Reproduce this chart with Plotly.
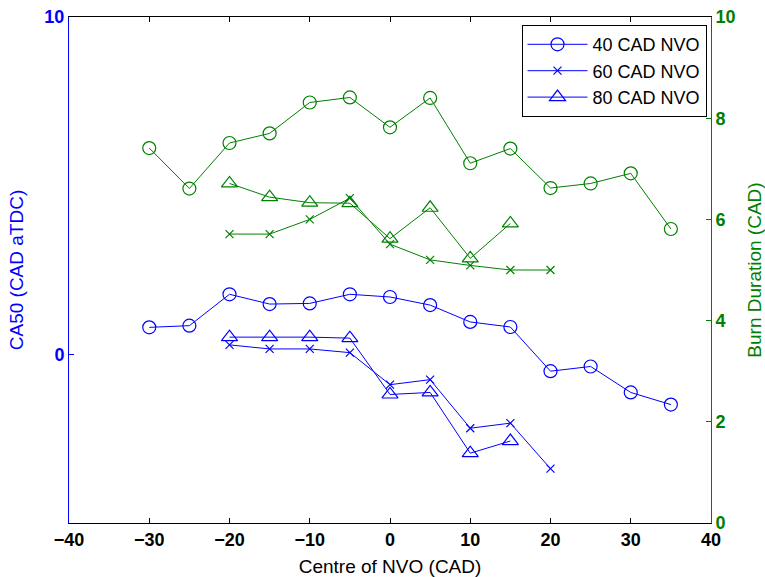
import plotly.graph_objects as go

# Centre of NVO positions (CAD)
nvo40_x = [-30, -25, -20, -15, -10, -5, 0, 5, 10, 15, 20, 25, 30, 35]
nvo60_x = [-20, -15, -10, -5, 0, 5, 10, 15, 20]
nvo80_x = [-20, -15, -10, -5, 0, 5, 10, 15]

# CA50 (CAD aTDC) - left axis
ca50_40 = [0.80, 0.85, 1.78, 1.49, 1.51, 1.78, 1.70, 1.46, 0.96, 0.81, -0.50, -0.36, -1.13, -1.49]
ca50_60 = [0.28, 0.16, 0.16, 0.05, -0.90, -0.75, -2.19, -2.04, -3.39]
ca50_80 = [0.51, 0.51, 0.51, 0.48, -1.19, -1.13, -2.93, -2.57]

# Burn duration (CAD) - right axis
burn_40 = [7.41, 6.61, 7.51, 7.70, 8.31, 8.41, 7.82, 8.40, 7.11, 7.40, 6.62, 6.71, 6.91, 5.81]
burn_60 = [5.71, 5.71, 6.00, 6.42, 5.51, 5.20, 5.09, 5.00, 5.00]
burn_80 = [6.71, 6.44, 6.33, 6.32, 5.62, 6.23, 5.23, 5.92]

series_names = ["40 CAD NVO", "60 CAD NVO", "80 CAD NVO"]

BLUE = "rgb(0,0,255)"
GREEN = "rgb(0,128,0)"
FONT = "Liberation Sans, Arial, sans-serif"

marker_styles = [
    dict(symbol="circle-open", size=13),
    dict(symbol="x-thin-open", size=8),
    dict(symbol="triangle-up-open", size=14),
]

fig = go.Figure()

xs = [nvo40_x, nvo60_x, nvo80_x]
left_vals = [ca50_40, ca50_60, ca50_80]
right_vals = [burn_40, burn_60, burn_80]

for name, x, y, m in zip(series_names, xs, left_vals, marker_styles):
    fig.add_trace(go.Scatter(
        x=x, y=y, name=name, mode="lines+markers",
        line=dict(color=BLUE, width=1),
        marker=dict(color=BLUE, line=dict(color=BLUE, width=1.2), **m),
        yaxis="y",
    ))

for name, x, y, m in zip(series_names, xs, right_vals, marker_styles):
    fig.add_trace(go.Scatter(
        x=x, y=y, name=name, mode="lines+markers", showlegend=False,
        line=dict(color=GREEN, width=1),
        marker=dict(color=GREEN, line=dict(color=GREEN, width=1.2), **m),
        yaxis="y2",
    ))

tick_font = dict(family=FONT, size=18, weight="bold")
TITLE_SIZE = 19

fig.update_layout(
    width=765, height=577,
    margin=dict(l=69, r=54, t=17, b=54),
    paper_bgcolor="white", plot_bgcolor="white",
    font=dict(family=FONT, size=16, color="black"),
    xaxis=dict(
        range=[-40, 40], dtick=10, tick0=0, automargin=False,
        showline=True, linecolor="black", linewidth=1, mirror="ticks",
        ticks="inside", ticklen=5, tickcolor="black",
        showgrid=False, zeroline=False,
        tickfont=dict(color="black", **tick_font),
        title=dict(text="Centre of NVO (CAD)", font=dict(size=TITLE_SIZE, color="black")),
    ),
    yaxis=dict(
        range=[-5, 10], dtick=10, tick0=0, automargin=False,
        showline=True, linecolor=BLUE, linewidth=1,
        ticks="inside", ticklen=5, tickcolor=BLUE,
        showgrid=False, zeroline=False,
        tickfont=dict(color=BLUE, **tick_font),
        title=dict(text="CA50 (CAD aTDC)", font=dict(size=TITLE_SIZE, color=BLUE)),
    ),
    yaxis2=dict(
        range=[0, 10], dtick=2, tick0=0, automargin=False,
        overlaying="y", side="right",
        showline=True, linecolor=GREEN, linewidth=1,
        ticks="inside", ticklen=5, tickcolor=GREEN,
        showgrid=False, zeroline=False,
        tickfont=dict(color=GREEN, **tick_font),
        title=dict(text="Burn Duration (CAD)", font=dict(size=TITLE_SIZE, color=GREEN)),
    ),
    legend=dict(
        x=0.993, y=0.984, xanchor="right", yanchor="top",
        bgcolor="white", bordercolor="black", borderwidth=1,
        font=dict(size=18, color="black"),
        tracegroupgap=0, itemwidth=60,
    ),
)

fig.write_html("out.html")
